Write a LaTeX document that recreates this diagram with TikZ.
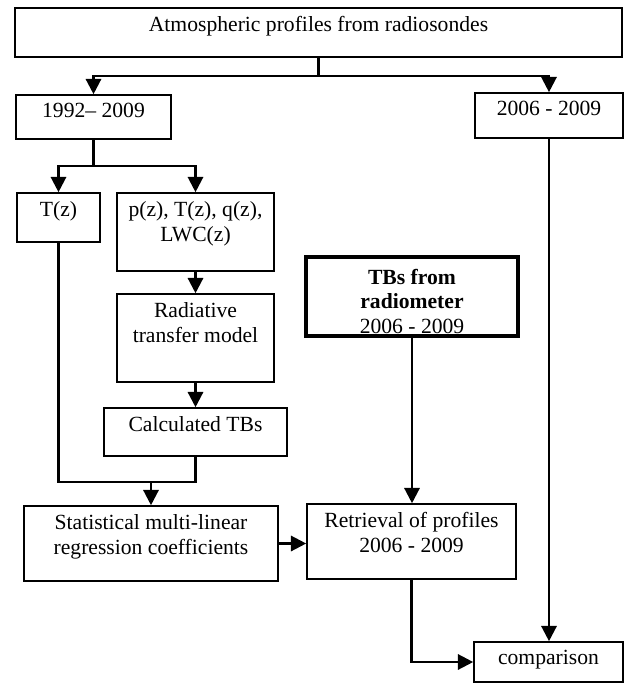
\documentclass[tikz,border=0pt]{standalone}
\usepackage{fontspec}
\setmainfont{Liberation Serif}
\usetikzlibrary{arrows.meta}

\begin{document}
\begin{tikzpicture}[
    x=0.555pt, y=-0.555pt,
    mybox/.style={draw, line width=0.9pt, inner sep=0pt},
    mylabel/.style={anchor=north, inner sep=0pt, yshift=-5pt, align=center,
                    font=\fontsize{12}{13.6}\selectfont},
    myline/.style={line width=1.3pt},
    myarrow/.style={myline, -{Triangle[length=8.5pt, width=8.5pt]}}
]
\useasboundingbox (0,0) rectangle (625,683);

% boxes
\node[mybox, minimum width=336.9pt, minimum height=27.2pt,
      label={[mylabel]north:Atmospheric profiles from radiosondes}] (atm) at (318.5,32.5) {};
\node[mybox, minimum width=86pt, minimum height=24.4pt,
      label={[mylabel]north:1992-- 2009}] (long) at (93.5,117) {};
\node[mybox, minimum width=82.1pt, minimum height=25pt,
      label={[mylabel]north:2006 - 2009}] (short) at (549,115.5) {};
\node[mybox, minimum width=46.1pt, minimum height=27.2pt,
      label={[mylabel]north:T(z)}] (tz) at (58.5,217.5) {};
\node[mybox, minimum width=87.1pt, minimum height=43.3pt,
      label={[mylabel]north:{p(z), T(z), q(z),\\LWC(z)}}] (prof) at (195.5,232) {};
\node[mybox, minimum width=87.1pt, minimum height=48.8pt,
      label={[mylabel]north:{Radiative\\transfer model}}] (rtm) at (195.5,338) {};
\node[mybox, minimum width=101.6pt, minimum height=26.6pt,
      label={[mylabel]north:Calculated TBs}] (calc) at (195.5,432) {};
\node[mybox, line width=2.2pt, minimum width=117.7pt, minimum height=43.8pt,
      label={[mylabel, yshift=-2.5pt]north:{\textbf{TBs from}\\\textbf{radiometer}\\2006 - 2009}}] (radio) at (412,296.5) {};
\node[mybox, minimum width=141pt, minimum height=41.6pt,
      label={[mylabel]north:{Statistical multi-linear\\regression coefficients}}] (stat) at (151,543.5) {};
\node[mybox, minimum width=116pt, minimum height=41.6pt,
      label={[mylabel]north:{Retrieval of profiles\\2006 - 2009}}] (retr) at (411.5,541.5) {};
\node[mybox, minimum width=82.7pt, minimum height=22.2pt,
      label={[mylabel]north:comparison}] (comp) at (548.5,662) {};

% branch points
\coordinate (j1) at (318.5,76);
\coordinate (j2) at (93.5,166);
\coordinate (j3) at (151,482);

% connectors
\draw[myline] (atm) -- (j1);
\draw[myarrow] (j1) -| (long);
\draw[myarrow] (j1) -| (short);
\draw[myline] (long) -- (j2);
\draw[myarrow] (j2) -| (tz);
\draw[myarrow] (j2) -| (prof);
\draw[myarrow] (prof) -- (rtm);
\draw[myarrow] (rtm) -- (calc);
\draw[myline] (tz) |- (j3);
\draw[myline] (calc) |- (j3);
\draw[myarrow] (j3) -- (stat);
\draw[myarrow] (stat.east) -- (stat.east -| retr.west);
\draw[myarrow] (radio) -- (radio |- retr.north);
\draw[myarrow] (retr) |- (comp);
\draw[myarrow] (short) -- (short |- comp.north);
\end{tikzpicture}
\end{document}
